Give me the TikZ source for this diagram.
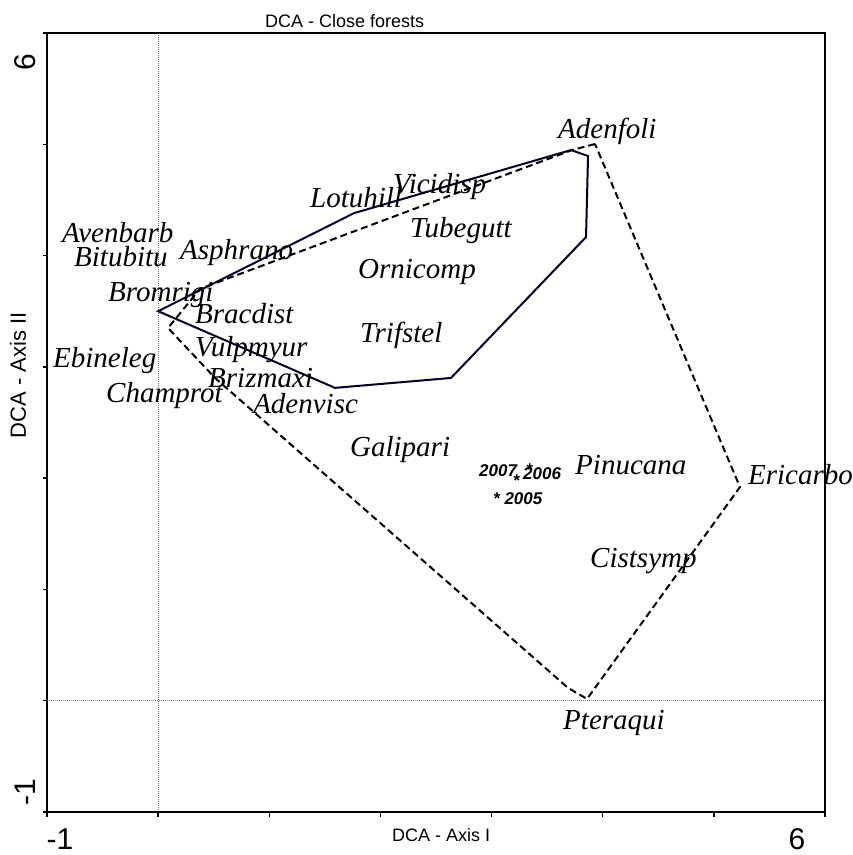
\documentclass[tikz,border=0pt]{standalone}
\usepackage{fontspec}
\setmainfont{Liberation Serif}
\setsansfont{Liberation Sans}
\tikzset{
	species/.style = {
		anchor=base west,
		inner sep=0pt,
		font=\fontsize{29}{29}\selectfont\itshape
	},
	yearlabel/.style = {
		anchor=base west,
		inner sep=0pt,
		font=\fontsize{17}{17}\selectfont\sffamily\bfseries\itshape
	},
	axislabel/.style = {
		inner sep=0pt,
		font=\fontsize{18}{18}\selectfont\sffamily
	},
	ticklabel/.style = {
		inner sep=0pt,
		font=\fontsize{30}{30}\selectfont\sffamily
	},
	hull_close/.style = {
		line width=2pt,
		draw=black!85!blue
	},
	hull_all/.style = {
		line width=2pt,
		draw=black,
		dash pattern=on 7pt off 4pt
	},
	zeroline/.style = {
		line width=1pt,
		draw=black!55,
		dash pattern=on 1pt off 1pt
	},
}

\begin{document}
\begin{tikzpicture}[x=111.14pt, y=111.29pt]
\useasboundingbox (-1.4229,-1.3864) rectangle (6.2521,6.2963);

% zero lines
\draw[zeroline] (0,-1) -- (0,6);
\draw[zeroline] (-1,0) -- (6,0);

% frame and ticks
\foreach \t in {-1,...,6} {
	\draw[line width=1.5pt] (\t,-1) ++(0pt,1pt) -- ++(0pt,-6pt);
	\draw[line width=1.5pt] (-1,\t) ++(1pt,0pt) -- ++(-5pt,0pt);
}
\draw[line width=2.2pt] (-1,-1) rectangle (6,6);

% hull of the close forest releves
\coordinate (s1) at (0.000,3.500);
\coordinate (s2) at (1.762,4.381);
\coordinate (s3) at (3.715,4.948);
\coordinate (s4) at (3.868,4.894);
\coordinate (s5) at (3.850,4.166);
\coordinate (s6) at (2.635,2.900);
\coordinate (s7) at (1.591,2.811);
\draw[hull_close] (s1) -- (s2) -- (s3) -- (s4) -- (s5) -- (s6) -- (s7) -- cycle;

% hull of all releves
\coordinate (d1) at (3.931,5.002);
\coordinate (d2) at (3.724,4.948);
\coordinate (d3) at (0.377,3.701);
\coordinate (d4) at (0.089,3.349);
\coordinate (d5) at (0.512,2.900);
\coordinate (d6) at (1.250,2.253);
\coordinate (d7) at (3.688,0.115);
\coordinate (d8) at (3.859,0.016);
\coordinate (d9) at (5.235,1.920);
\draw[hull_all] (d1) -- (d2) -- (d3) -- (d4) -- (d5) -- (d6) -- (d7) -- (d8) -- (d9) -- cycle;

% species
\node[species] (adenfoli) at (3.598,5.056) {Adenfoli};
\node[species] (vicidisp) at (2.113,4.562) {Vicidisp};
\node[species] (lotuhill) at (1.366,4.436) {Lotuhill};
\node[species] (tubegutt) at (2.266,4.158) {Tubegutt};
\node[species] (avenbarb) at (-0.865,4.113) {Avenbarb};
\node[species] (asphrano) at (0.197,3.960) {Asphrano};
\node[species] (bitubitu) at (-0.757,3.906) {Bitubitu};
\node[species] (ornicomp) at (1.798,3.798) {Ornicomp};
\node[species] (bromrigi) at (-0.451,3.583) {Bromrigi};
\node[species] (bracdist) at (0.332,3.385) {Bracdist};
\node[species] (trifstel) at (1.816,3.223) {Trifstel};
\node[species] (vulpmyur) at (0.332,3.097) {Vulpmyur};
\node[species] (ebineleg) at (-0.946,2.990) {Ebineleg};
\node[species] (brizmaxi) at (0.449,2.810) {Brizmaxi};
\node[species] (champrot) at (-0.469,2.684) {Champrot};
\node[species] (adenvisc) at (0.854,2.585) {Adenvisc};
\node[species] (galipari) at (1.726,2.190) {Galipari};
\node[species] (pinucana) at (3.751,2.037) {Pinucana};
\node[species] (ericarbo) at (5.307,1.947) {Ericarbo};
\node[species] (cistsymp) at (3.886,1.201) {Cistsymp};
\node[species] (pteraqui) at (3.643,-0.263) {Pteraqui};

% years
\node[yearlabel] (y2007) at (2.887,2.019) {2007};
\node[yearlabel] (p2007) at (3.190,1.929) {*};
\node[yearlabel] (p2006) at (3.307,2.028) {*};
\node[yearlabel] (y2006) at (3.283,1.992) {2006};
\node[yearlabel] (y2005) at (3.013,1.759) {* 2005};

% axes
\node[ticklabel, rotate=90] (ytop) at (-1.198,5.739) {6};
\node[ticklabel, rotate=90] (ybot) at (-1.198,-0.820) {-1};
\node[ticklabel] (xleft) at (-0.883,-1.245) {-1};
\node[ticklabel] (xright) at (5.747,-1.245) {6};
\node[axislabel] (xtitle) at (2.546,-1.210) {DCA - Axis I};
\node[axislabel, rotate=90, font=\fontsize{22}{22}\selectfont\sffamily] (ytitle) at (-1.261,2.925) {DCA - Axis II};
\node[axislabel, anchor=base west] (title) at (0.961,6.045) {DCA - Close forests};
\end{tikzpicture}
\end{document}
